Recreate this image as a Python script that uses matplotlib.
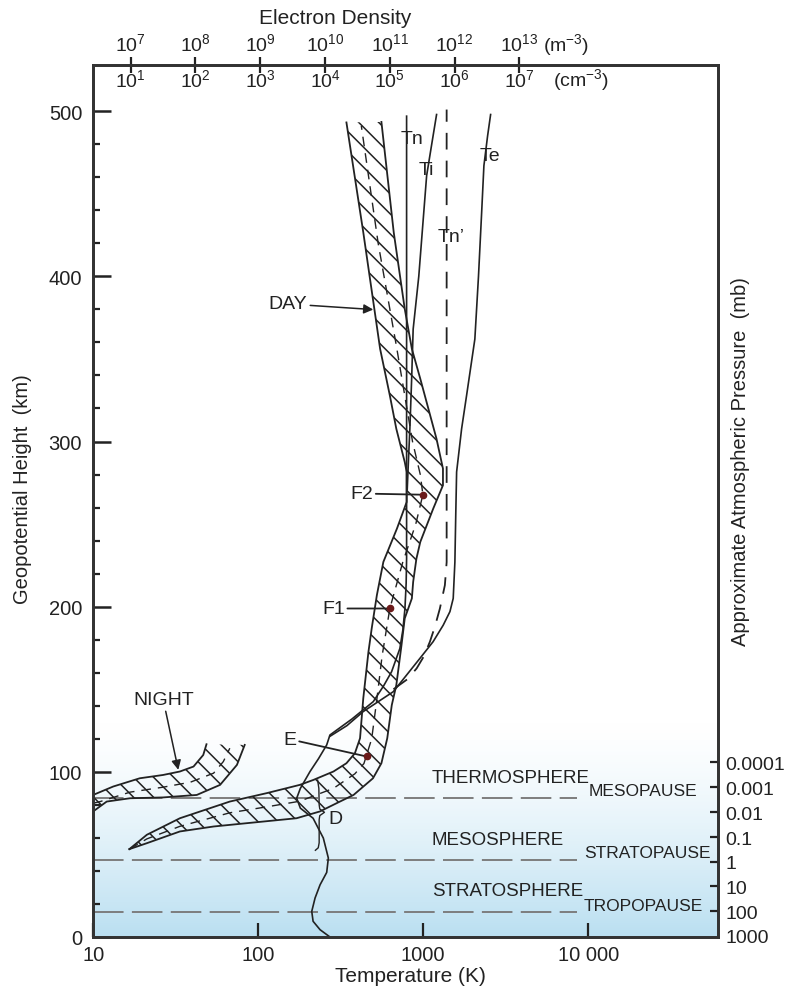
import numpy as np
import matplotlib.pyplot as plt
from matplotlib.patches import Polygon
from matplotlib.collections import LineCollection
from matplotlib.ticker import FixedLocator, NullLocator

plt.rcParams['font.family'] = ['Liberation Sans', 'DejaVu Sans']
plt.rcParams['mathtext.fontset'] = 'custom'
plt.rcParams['mathtext.rm'] = 'Liberation Sans'
plt.rcParams['mathtext.it'] = 'Liberation Sans:italic'
plt.rcParams['lines.scale_dashes'] = False

INK = '#222222'

# ---- temperature profiles (height km, temperature K) ----
tn_h = [0, 4.4, 9.5, 15.5, 23.6, 31.6, 39.1, 47.8, 59.9, 71.9, 78.0, 84.0, 90.0, 100.2, 108, 116.3,
        122.3, 132, 142.5, 152, 160.6, 174.7, 186, 198.9, 214, 229.1, 497]
tn_t = [272, 237, 215, 211, 221, 237, 260, 266, 248, 215, 180, 171, 180, 206, 232, 260,
        272, 370, 498, 575, 643, 722, 753, 775, 788, 793, 793]

te_h = [121.5, 128, 136.5, 148.5, 158.6, 168.7, 178.8, 188.8, 197, 205, 227, 255.6, 281.6, 307.7,
        327.9, 362, 400, 440, 467, 485, 498]
te_t = [272, 345, 433, 658, 793, 955, 1148, 1322, 1452, 1520, 1556, 1575, 1594, 1709,
        1832, 2056, 2163, 2264, 2333, 2456, 2562]

ti_h = [271, 290, 307.7, 338, 368, 400, 430, 461, 480, 498]
ti_t = [800, 815, 830, 851, 869, 940, 992, 1049, 1126, 1205]

tn2_h = [150, 156, 162.6, 170, 178.8, 188, 198.9, 213, 227, 501]
tn2_t = [660, 800, 912, 1010, 1098, 1178, 1262, 1353, 1387, 1387]

# ---- electron density bands (height km, log10 Ne in m^-3) ----
day_l_h = [493.2, 426.7, 356.1, 327.9, 307.7, 287.6, 281.6, 263.4, 247.3, 227.1, 207.0, 186.8, 172.7,
           144.5, 120.3, 111.2, 105.2, 100.2, 95.1, 92.1, 87.1, 82.0, 71.9, 61.9, 53.2]
day_l_ne = [10.33, 10.59, 10.85, 11.00, 11.10, 11.23, 11.26, 11.26, 11.11, 10.90, 10.80, 10.72, 10.67,
            10.59, 10.54, 10.46, 10.33, 10.13, 9.82, 9.61, 9.10, 8.53, 7.76, 7.25, 6.98]
day_r_h = [53.2, 56.8, 63.9, 66.9, 68.9, 71.9, 76.0, 82.0, 86.0, 96.1, 105.2, 120.3, 140.4, 152.5,
           176.7, 192.9, 205, 215, 229, 239.2, 259.4, 273.5, 283.6, 301.7, 338, 356.1, 380.3, 426.7, 493.5]
day_r_ne = [6.98, 7.25, 7.76, 8.28, 8.79, 9.56, 9.92, 10.23, 10.44, 10.74, 10.87, 10.96, 11.03, 11.10,
            11.18, 11.23, 11.34, 11.36, 11.41, 11.47, 11.67, 11.82, 11.82, 11.72, 11.47, 11.34, 11.23, 11.06, 10.87]
day_c_h = [53.2, 59.4, 67.0, 75.2, 78.8, 82.2, 90.0, 98.8, 105.0, 110.0, 120.0, 144.0, 170.0, 198.9,
           227.0, 250.0, 267.8, 280.0, 300.0, 358.1, 420.0, 491.1]
day_c_ne = [6.98, 7.25, 7.76, 8.53, 9.10, 9.61, 10.13, 10.46, 10.60, 10.64, 10.72, 10.80, 10.88, 11.00,
            11.20, 11.40, 11.51, 11.47, 11.35, 11.10, 10.82, 10.56]

night_u_h = [86, 91.1, 96.1, 98.1, 100.2, 103.2, 110.2, 116.7]
night_u_ne = [6.42, 6.73, 7.14, 7.50, 7.76, 7.97, 8.12, 8.17]
night_l_h = [76, 82, 84, 84.5, 86, 92.1, 104.2, 116.3]
night_l_ne = [6.42, 6.63, 6.99, 7.50, 8.02, 8.38, 8.64, 8.76]
night_c_h = [81, 82, 87.7, 90.7, 93.7, 99.2, 106.2, 114.3]
night_c_ne = [6.42, 6.53, 6.99, 7.50, 7.92, 8.28, 8.43, 8.53]

layer_names = ['E', 'F1', 'F2']
layer_h = [109.3, 198.9, 267.8]
layer_ne = [10.64, 11.00, 11.51]
label_ne = [9.458, 10.127, 10.565]
label_h = [119.7, 198.9, 268.5]

# ---- atmosphere layers ----
bound_h = [84.0, 46.7, 15.3]
sphere_names = ['THERMOSPHERE', 'MESOSPHERE', 'STRATOSPHERE']
sphere_h = [96.4, 58.8, 27.9]
pause_names = ['MESOPAUSE', 'STRATOPAUSE', 'TROPOPAUSE']
pause_h = [88.6, 51.1, 19.0]
pause_t = [10000, 9420, 9420]

p_h = [105.8, 90.7, 75.5, 60.4, 45.6, 30.7, 15.6, 0.8]
p_labels = ['0.0001', '0.001', '0.01', '0.1', '1', '10', '100', '1000']

ne_m3 = [7, 8, 9, 10, 11, 12, 13]
ne_cm3 = [1, 2, 3, 4, 5, 6, 7]

brace_t = [229, 233, 234, 236, 252, 236, 234, 234, 231, 222]
brace_h = [95, 90, 80, 77.5, 75.5, 73.5, 71, 57, 54, 52.5]

fig = plt.figure(figsize=(7.92, 9.95), dpi=100)
ax = fig.add_axes([0.1178, 0.0573, 0.789, 0.8764])
YMAX = 528

# background gradient
hh = np.linspace(0, 130, 200)
tt = ((130 - hh) / 130) ** 1.4
blue = np.array([0.73, 0.875, 0.945])
img = (1 - tt[:, None]) * np.ones(3) + tt[:, None] * blue
ax.imshow(img[:, None, :], extent=(0, 1, 0, 130 / YMAX), transform=ax.transAxes,
          aspect='auto', origin='lower', zorder=0)

ax.set_xscale('log')
ax.set_xlim(10, 61400)
ax.set_ylim(0, YMAX)

for h in bound_h:
    ax.plot([10, 8500], [h, h], color='#7d7d7d', lw=1.4, dashes=(22, 6), zorder=1)
for name, h in zip(sphere_names, sphere_h):
    ax.text(1125, h, name, fontsize=13.5, color=INK, va='center', ha='left')
for name, h, t in zip(pause_names, pause_h, pause_t):
    ax.text(t, h, name, fontsize=12.5, color=INK, va='center', ha='left')

ax.plot(tn_t, tn_h, color=INK, lw=1.2, zorder=3)
ax.plot(te_t, te_h, color=INK, lw=1.2, zorder=3)
ax.plot(ti_t, ti_h, color=INK, lw=1.2, zorder=3)
ax.plot(tn2_t, tn2_h, color=INK, lw=1.3, dashes=(12, 8), zorder=3)
ax.plot(brace_t, brace_h, color=INK, lw=1.0, zorder=3)

ax.text(860, 483.5, 'Tn', fontsize=14, color=INK, ha='center', va='center')
ax.text(1052, 465, 'Ti', fontsize=14, color=INK, ha='center', va='center')
ax.text(1479, 424.3, 'Tn\u2019', fontsize=14, color=INK, ha='center', va='center')
ax.text(2548, 473.2, 'Te', fontsize=14, color=INK, ha='center', va='center')
ax.text(292, 71.5, 'D', fontsize=14, color=INK, ha='center', va='center')

ax.set_xticks([10, 100, 1000, 10000])
ax.set_xticklabels(['10', '100', '1000', '10 000'])
ax.xaxis.set_minor_locator(NullLocator())
ax.set_yticks([0, 100, 200, 300, 400, 500])
ax.yaxis.set_minor_locator(FixedLocator([v for v in range(20, 500, 20) if v % 100]))
ax.tick_params(axis='x', which='major', direction='in', length=10, width=1.6, pad=6,
               labelsize=14.5, colors=INK, top=False)
ax.tick_params(axis='y', which='major', direction='in', length=13, width=1.8, pad=8,
               labelsize=14.5, colors=INK, right=False)
ax.tick_params(axis='y', which='minor', direction='in', length=5, width=1.6, right=False, colors=INK)
ax.text(0.507, -0.0436, 'Temperature (K)', transform=ax.transAxes, fontsize=15,
        color=INK, ha='center', va='center')
ax.text(-0.114, 0.515, 'Geopotential Height  (km)', transform=ax.transAxes, fontsize=14.5,
        color=INK, ha='center', va='center', rotation=90)

# ---- electron density axis (top) ----
axd = ax.twiny()
axd.set_xscale('log')
axd.set_xlim(10 ** 6.423, 10 ** 16.068)
axd.set_ylim(0, YMAX)
axd.set_xticks([10.0 ** k for k in ne_m3])
axd.set_xticklabels(['$\\mathregular{10^{%d}}$' % k for k in ne_m3])
axd.xaxis.set_minor_locator(NullLocator())
axd.tick_params(axis='x', direction='inout', length=11, width=1.6, pad=2, labelsize=14, colors=INK)
for k, kc in zip(ne_m3, ne_cm3):
    axd.text(10.0 ** k, 0.984, '$\\mathregular{10^{%d}}$' % kc, transform=axd.get_xaxis_transform(),
             fontsize=14, color=INK, ha='center', va='center')
axd.text(10 ** 13.36, 1.024, '(m$\\mathregular{^{-3}}$)', transform=axd.get_xaxis_transform(),
         fontsize=14, color=INK, ha='left', va='center')
axd.text(10 ** 13.52, 0.984, '(cm$\\mathregular{^{-3}}$)', transform=axd.get_xaxis_transform(),
         fontsize=14, color=INK, ha='left', va='center')
axd.text(0.387, 1.055, 'Electron Density', transform=axd.transAxes, fontsize=15,
         color=INK, ha='center', va='center')

# hatch lines in pixel space (45 deg), clipped to each band
W = 0.789 * 792
H = 0.8764 * 995
step = 20.0
segs = [[(0, c / H), (1, (c - W) / H)] for c in np.arange(0, W + H, step)]


def band(left_h, left_ne, right_h, right_ne, center_h, center_ne):
    xs = list(10 ** np.array(left_ne)) + list(10 ** np.array(right_ne))
    ys = list(left_h) + list(right_h)
    poly = Polygon(np.column_stack([xs, ys]), closed=True, facecolor='none', edgecolor='none')
    axd.add_patch(poly)
    lc = LineCollection(segs, colors=INK, linewidths=1.1, transform=axd.transAxes)
    lc.set_clip_path(poly)
    axd.add_collection(lc, autolim=False)
    axd.plot(10 ** np.array(left_ne), left_h, color=INK, lw=1.3)
    axd.plot(10 ** np.array(right_ne), right_h, color=INK, lw=1.3)
    axd.plot(10 ** np.array(center_ne), center_h, color=INK, lw=1.0, dashes=(7, 5))


band(day_l_h, day_l_ne, day_r_h, day_r_ne, day_c_h, day_c_ne)
band(night_u_h, night_u_ne, night_l_h[::-1], night_l_ne[::-1], night_c_h, night_c_ne)
axd.set_xlim(10 ** 6.423, 10 ** 16.068)
axd.set_ylim(0, YMAX)

axd.plot(10 ** np.array(layer_ne), layer_h, 'o', color='#6a1a1a', ms=4.5, zorder=5)
for name, h, n, tn, th in zip(layer_names, layer_h, layer_ne, label_ne, label_h):
    axd.annotate(name, xy=(10 ** n, h), xytext=(10 ** tn, th), fontsize=14, color=INK,
                 ha='center', va='center',
                 arrowprops=dict(arrowstyle='-', color=INK, lw=1.3, shrinkA=0, shrinkB=0))

axd.annotate('DAY', xy=(10 ** 10.744, 379.9), xytext=(10 ** 9.43, 383.3), fontsize=14, color=INK,
             ha='center', va='center',
             arrowprops=dict(arrowstyle='-|>', color=INK, lw=1.1, mutation_scale=14, shrinkA=0, shrinkB=0))
axd.annotate('NIGHT', xy=(10 ** 7.735, 101.2), xytext=(10 ** 7.503, 143.5), fontsize=14, color=INK,
             ha='center', va='center',
             arrowprops=dict(arrowstyle='-|>', color=INK, lw=1.1, mutation_scale=14, shrinkA=0, shrinkB=0))

# ---- pressure axis (right) ----
axp = ax.twinx()
axp.set_ylim(0, YMAX)
axp.set_yticks(p_h)
axp.set_yticklabels(p_labels)
axp.tick_params(axis='y', direction='in', length=6, width=1.6, pad=5, labelsize=14, colors=INK)
axp.yaxis.get_major_ticks()[-1].tick2line.set_visible(False)
axp.yaxis.get_major_ticks()[-1].tick1line.set_visible(False)
axp.text(1.036, 0.546, 'Approximate Atmospheric Pressure  (mb)', transform=axp.transAxes,
         fontsize=14.5, color=INK, ha='center', va='center', rotation=90)

for a in (ax, axd, axp):
    for s in a.spines.values():
        s.set_linewidth(1.8)
        s.set_color('#333333')

fig.savefig('out.png', dpi=100)
